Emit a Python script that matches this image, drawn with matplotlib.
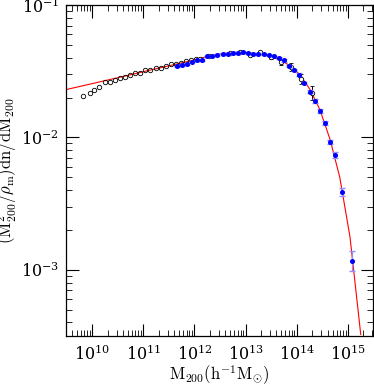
import numpy as np
import matplotlib
matplotlib.use("Agg")
import matplotlib.pyplot as plt
from matplotlib.ticker import LogLocator, NullFormatter

plt.rcParams['mathtext.fontset'] = 'cm'
plt.rcParams['font.family'] = 'DejaVu Serif'

# open circles (log10 M, value)
open_logm = [9.83, 9.95, 10.04, 10.14, 10.25, 10.35, 10.45, 10.55, 10.64, 10.74,
             10.84, 10.94, 11.04, 11.14, 11.24, 11.34, 11.44, 11.54, 11.64, 11.74,
             11.84, 11.94, 12.04]
open_val = [0.0205, 0.0217, 0.0227, 0.0240, 0.0262, 0.0264, 0.0273, 0.0279, 0.0288, 0.0298,
            0.0304, 0.0306, 0.0321, 0.0324, 0.0332, 0.0336, 0.0348, 0.0356, 0.0358, 0.0366,
            0.0375, 0.0384, 0.0393]

# open circles with error bars (high mass)
oerr_logm = [12.11, 12.29, 12.70, 12.89, 13.09, 13.29, 13.49, 13.69, 13.89, 14.08, 14.29]
oerr_val = [0.0393, 0.0414, 0.0436, 0.0438, 0.0421, 0.0438, 0.0405, 0.0371, 0.0340, 0.0278, 0.0217]
oerr_dex = [0.008, 0.008, 0.008, 0.008, 0.010, 0.012, 0.015, 0.020, 0.028, 0.038, 0.055]

# filled blue points
blue_logm = [11.65, 11.75, 11.85, 11.95, 12.05, 12.15, 12.25, 12.35, 12.45, 12.55,
             12.65, 12.75, 12.85, 12.95, 13.05, 13.15, 13.25, 13.35, 13.45, 13.55,
             13.65, 13.75, 13.85, 13.95, 14.05, 14.15, 14.25, 14.35, 14.45, 14.55,
             14.65, 14.75, 14.88, 15.07]
blue_val = [0.03436, 0.03527, 0.03589, 0.03741, 0.03813, 0.03840, 0.04087, 0.04136, 0.04209, 0.04260,
            0.04282, 0.04334, 0.04334, 0.04380, 0.04334, 0.04282, 0.04282, 0.04238, 0.04172, 0.04087,
            0.03974, 0.03813, 0.03479, 0.03246, 0.02977, 0.02578, 0.02210, 0.01881, 0.01576, 0.01285,
            0.00925, 0.00739, 0.00386, 0.00117]
blue_dex = [0.006, 0.006, 0.006, 0.006, 0.006, 0.006, 0.006, 0.006, 0.006, 0.006,
            0.006, 0.006, 0.006, 0.006, 0.006, 0.006, 0.006, 0.006, 0.006, 0.006,
            0.008, 0.008, 0.008, 0.008, 0.010, 0.010, 0.012, 0.012, 0.014, 0.015,
            0.017, 0.022, 0.030, 0.075]

# red fit curve
fit_logm = [9.49, 10.0, 10.55, 11.13, 11.64, 12.01, 12.30, 12.60, 12.89, 13.18,
            13.48, 13.67, 13.87, 14.06, 14.26, 14.45, 14.65, 14.84, 15.04, 15.25]
fit_logy = [-1.639, -1.594, -1.545, -1.492, -1.447, -1.414, -1.383, -1.365, -1.357, -1.365,
            -1.387, -1.414, -1.459, -1.526, -1.639, -1.789, -2.015, -2.301, -2.752, -3.489]

fig = plt.figure(figsize=(3.74, 3.91), dpi=100)
ax = fig.add_axes([0.1765, 0.1407, 0.8209, 0.8465])

ax.plot(10**np.array(fit_logm), 10**np.array(fit_logy), color='red', lw=0.8, zorder=1)

ov = np.array(oerr_val)
od = np.array(oerr_dex)
ax.errorbar(10**np.array(oerr_logm), ov, yerr=[ov - ov/10**od, ov*10**od - ov],
            fmt='o', ms=3.2, mfc='white', mec='black', mew=0.6, ecolor='black',
            elinewidth=0.7, capsize=1.5, zorder=2)
ax.plot(10**np.array(open_logm), open_val, 'o', ms=3.2, mfc='none', mec='black', mew=0.6, zorder=2)

bv = np.array(blue_val)
bd = np.array(blue_dex)
ax.errorbar(10**np.array(blue_logm), bv, yerr=[bv - bv/10**bd, bv*10**bd - bv],
            fmt='o', ms=2.6, color='blue', ecolor='#8f8fff', elinewidth=0.9,
            capsize=2, zorder=3)

ax.set_xscale('log')
ax.set_yscale('log')
ax.set_xlim(10**9.49, 10**15.49)
ax.set_ylim(10**-3.5, 0.1)

ax.xaxis.set_major_locator(LogLocator(base=10, numticks=20))
ax.xaxis.set_minor_locator(LogLocator(base=10, subs=np.arange(2, 10), numticks=20))
ax.yaxis.set_minor_locator(LogLocator(base=10, subs=np.arange(2, 10), numticks=20))
ax.xaxis.set_minor_formatter(NullFormatter())
ax.yaxis.set_minor_formatter(NullFormatter())

ax.tick_params(which='both', direction='in', top=True, right=True, labelsize=11.5)
ax.tick_params(which='major', length=9, width=0.8)
ax.tick_params(which='minor', length=4.5, width=0.6)
ax.tick_params(axis='x', pad=6)
ax.tick_params(axis='y', pad=5)
for s in ax.spines.values():
    s.set_linewidth(0.9)

ax.set_xlabel(r'$\mathrm{M_{200}(h^{-1}M_{\odot})}$', fontsize=12, labelpad=0)
ax.set_ylabel(r'$\mathrm{(M_{200}^{2}/\rho_{m})dn/dM_{200}}$', fontsize=12, labelpad=1)

fig.savefig('out.png', dpi=100)
